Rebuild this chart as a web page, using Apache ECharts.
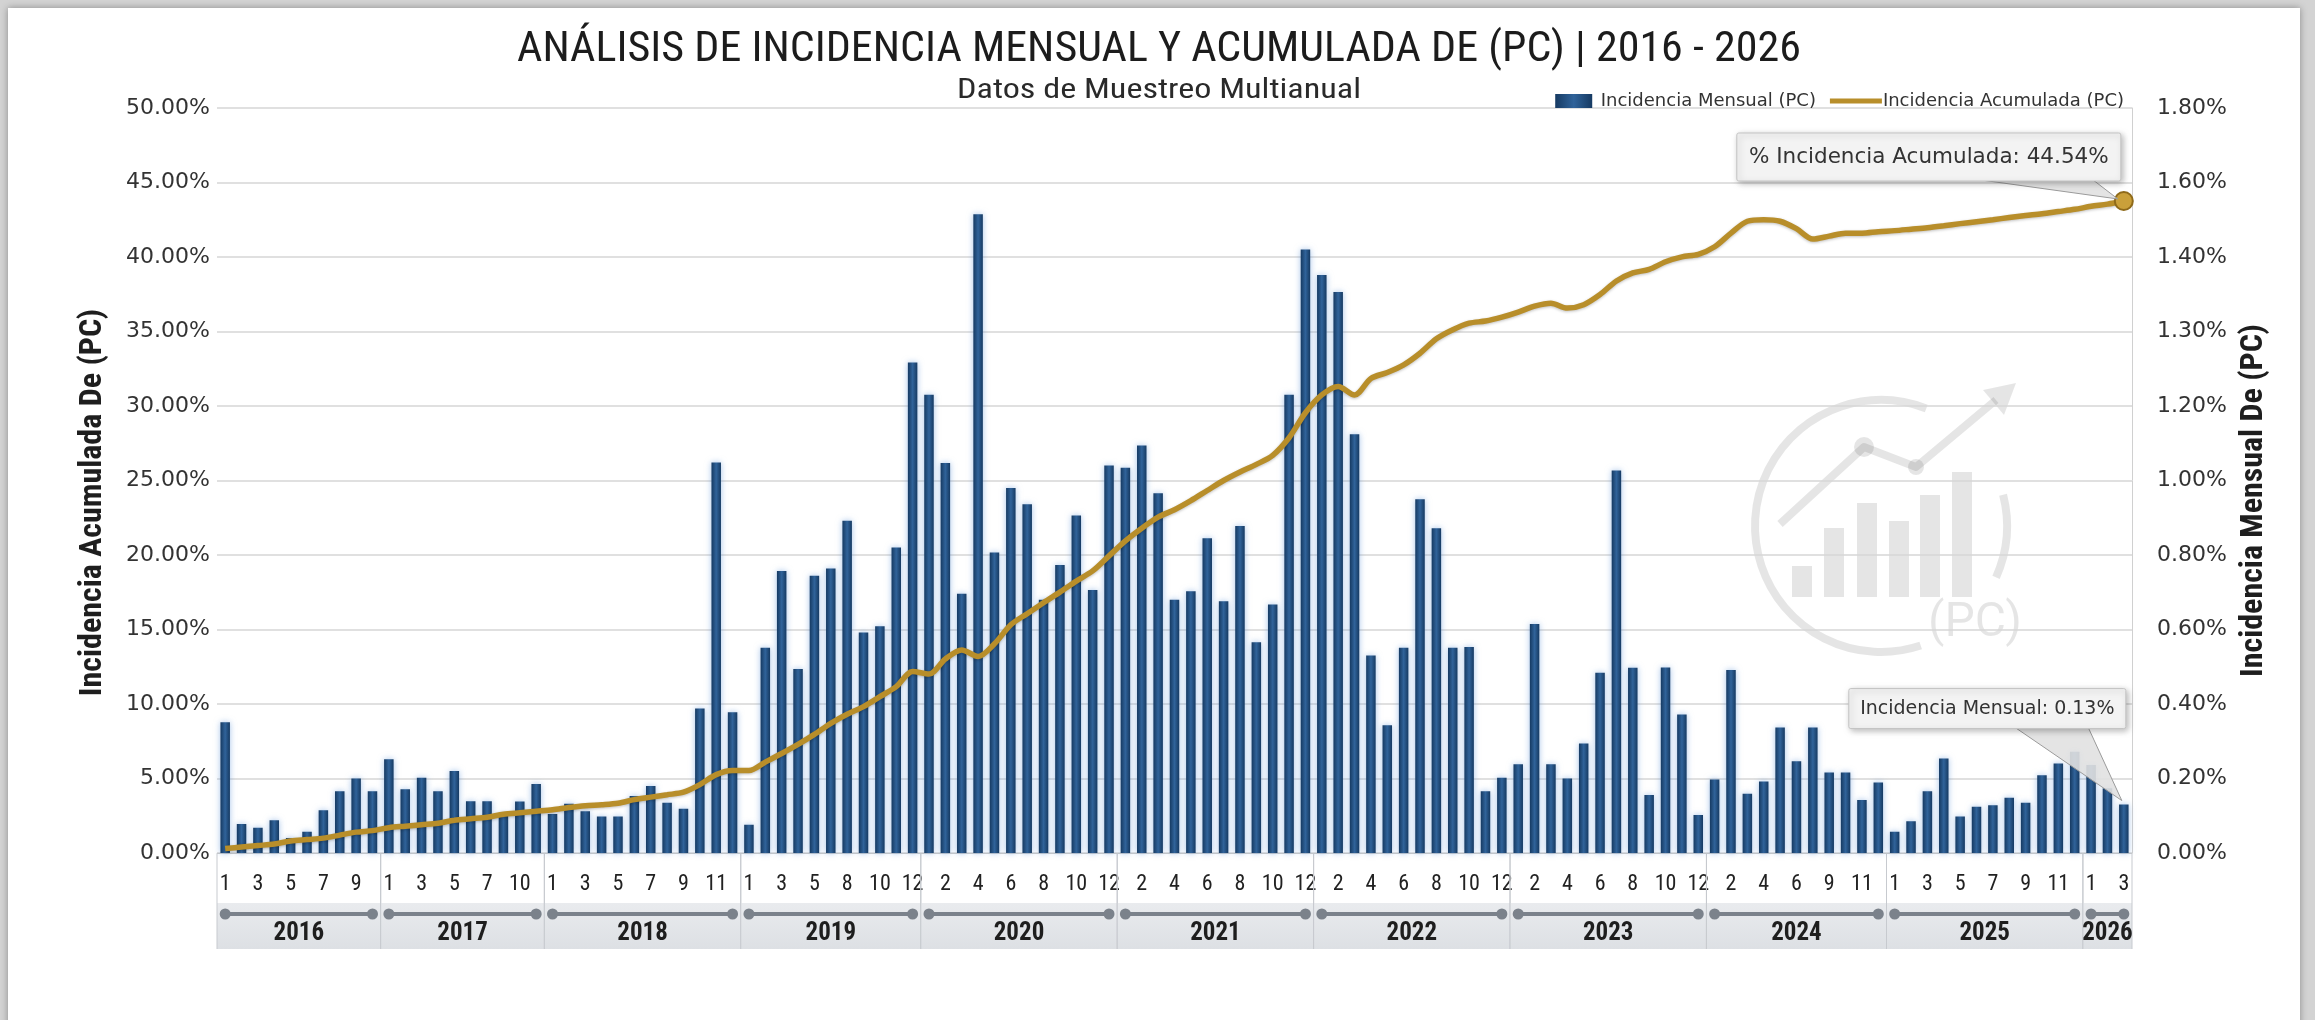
<!DOCTYPE html>
<html><head><meta charset="utf-8">
<script src="https://cdn.jsdelivr.net/npm/echarts@6/dist/echarts.min.js"></script>
<style>
html,body{margin:0;padding:0;background:#d3d3d3;width:2315px;height:1020px;overflow:hidden;}
#card{position:absolute;left:8px;top:8px;width:2292px;height:1040px;background:#fff;box-shadow:0 0 7px rgba(0,0,0,0.35);}
#chart{position:absolute;left:0;top:0;width:2315px;height:1020px;}
</style></head><body><div id="card"></div><div id="chart"></div>
<script>
// ---------------- DATA ----------------
const years = ['2016','2017','2018','2019','2020','2021','2022','2023','2024','2025','2026'];
const months2016 = [1,2,3,4,5,6,7,8,9,10];
const months2017 = [1,2,3,4,5,6,7,8,10,11];
const months2018 = [1,2,3,4,5,6,7,8,9,10,11,12];
const months2019 = [1,2,3,4,5,6,8,9,10,11,12];
const months2020 = [1,2,3,4,5,6,7,8,9,10,11,12];
const months2021 = [1,2,3,4,5,6,7,8,9,10,11,12];
const months2022 = [1,2,3,4,5,6,7,8,9,10,11,12];
const months2023 = [1,2,3,4,5,6,7,8,9,10,11,12];
const months2024 = [1,2,3,4,5,6,7,9,10,11,12];
const months2025 = [1,2,3,4,5,6,7,8,9,10,11,12];
const months2026 = [1,2,3];

// Incidencia Mensual (PC), % (right axis)
const monthly2016 = [0.351,0.078,0.068,0.088,0.040,0.057,0.115,0.166,0.200,0.166];
const monthly2017 = [0.252,0.171,0.202,0.166,0.220,0.139,0.139,0.104,0.138,0.185];
const monthly2018 = [0.105,0.132,0.112,0.098,0.098,0.153,0.180,0.135,0.119,0.388,1.048,0.378];
const monthly2019 = [0.076,0.551,0.757,0.494,0.744,0.764,0.892,0.592,0.609,0.820,1.317];
const monthly2020 = [1.230,1.047,0.696,1.715,0.807,0.980,0.936,0.680,0.773,0.906,0.706,1.040];
const monthly2021 = [1.034,1.094,0.966,0.680,0.703,0.845,0.676,0.878,0.566,0.667,1.230,1.620];
const monthly2022 = [1.552,1.506,1.124,0.530,0.343,0.551,0.950,0.872,0.551,0.553,0.166,0.202];
const monthly2023 = [0.238,0.615,0.238,0.200,0.294,0.484,1.027,0.497,0.156,0.498,0.372,0.102];
const monthly2024 = [0.197,0.491,0.159,0.192,0.337,0.246,0.337,0.216,0.216,0.142,0.189];
const monthly2025 = [0.057,0.085,0.166,0.254,0.098,0.124,0.128,0.148,0.135,0.209,0.240,0.272];
const monthly2026 = [0.236,0.174,0.130];

// Incidencia Acumulada (PC), % (left axis)
const cum2016 = [0.3,0.4,0.5,0.6,0.8,0.9,1.0,1.2,1.4,1.5];
const cum2017 = [1.7,1.8,1.9,2.0,2.2,2.3,2.4,2.6,2.7,2.8];
const cum2018 = [2.9,3.05,3.17,3.24,3.34,3.58,3.75,3.91,4.08,4.59,5.26,5.53];
const cum2019 = [5.53,6.1,6.68,7.29,7.96,8.7,9.31,9.82,10.49,11.17,12.18];
const cum2020 = [12.01,13.02,13.63,13.19,14.04,15.32,16.06,16.80,17.51,18.25,18.93,19.94];
const cum2021 = [20.95,21.80,22.54,23.04,23.65,24.33,25.0,25.57,26.08,26.69,27.87,29.55];
const cum2022 = [30.74,31.31,30.74,31.85,32.25,32.76,33.54,34.51,35.12,35.56,35.7,35.96];
const cum2023 = [36.3,36.7,36.9,36.57,36.8,37.48,38.39,38.93,39.17,39.68,40.01,40.18];
const cum2024 = [40.69,41.6,42.4,42.5,42.4,41.9,41.2,41.4,41.6,41.6,41.7];
const cum2025 = [41.77,41.87,41.97,42.1,42.24,42.37,42.5,42.65,42.78,42.9,43.05,43.2];
const cum2026 = [43.4,43.55,43.76];

const leftTicks = ['0.00%','5.00%','10.00%','15.00%','20.00%','25.00%','30.00%','35.00%','40.00%','45.00%','50.00%'];
const rightTicks = ['0.00%','0.20%','0.40%','0.60%','0.80%','1.00%','1.20%','1.30%','1.40%','1.60%','1.80%'];

const titleText = 'ANÁLISIS DE INCIDENCIA MENSUAL Y ACUMULADA DE (PC) | 2016 - 2026';
const subtitleText = 'Datos de Muestreo Multianual';
const seriesNames = ['Incidencia Mensual (PC)', 'Incidencia Acumulada (PC)'];
const axisNames = ['Incidencia Acumulada De (PC)', 'Incidencia Mensual De (PC)'];
const cumulativeLabel = '% Incidencia Acumulada: 44.54%';

// ---------------- BUILD ----------------
const monthsByYear = [months2016,months2017,months2018,months2019,months2020,months2021,months2022,months2023,months2024,months2025,months2026];
const monthlyByYear = [monthly2016,monthly2017,monthly2018,monthly2019,monthly2020,monthly2021,monthly2022,monthly2023,monthly2024,monthly2025,monthly2026];
const cumByYear = [cum2016,cum2017,cum2018,cum2019,cum2020,cum2021,cum2022,cum2023,cum2024,cum2025,cum2026];

const categories = [], monthly = [], cumulative = [], yearRanges = [];
monthsByYear.forEach((ms, yi) => {
  const start = categories.length;
  ms.forEach((m, k) => {
    categories.push(years[yi] + '-' + m);
    monthly.push(monthlyByYear[yi][k]);
    cumulative.push(cumByYear[yi][k]);
  });
  yearRanges.push([start, categories.length - 1, yi, 0]);
});
const lastIdx = categories.length - 1;

function hasFont(f) {
  const c = document.createElement('canvas').getContext('2d');
  c.font = '40px monospace';
  const w1 = c.measureText('ABCabc123%').width;
  c.font = '40px "' + f + '", monospace';
  return c.measureText('ABCabc123%').width !== w1;
}
const condName = ['Roboto Condensed','Liberation Sans Narrow','DejaVu Sans Condensed','Arial Narrow'].find(hasFont);
const COND = condName ? '"' + condName + '", Roboto, sans-serif' : 'Roboto, sans-serif';
const ROBO = 'Roboto, "Liberation Sans", sans-serif';
const WIDE = '"DejaVu Sans", Verdana, sans-serif';

function measure(text, size, fam, weight) {
  const c = document.createElement('canvas').getContext('2d');
  c.font = (weight || 'normal') + ' ' + size + 'px ' + fam;
  return c.measureText(text).width;
}

const chart = echarts.init(document.getElementById('chart'), null, {renderer: 'canvas'});

const barGrad = new echarts.graphic.LinearGradient(0, 0, 1, 0, [
  {offset: 0, color: '#163a62'},
  {offset: 0.5, color: '#30639a'},
  {offset: 1, color: '#163a62'}
]);

const WM = 'rgba(0,0,0,0.10)';
const wmCx = 1881, wmCy = 526;
const watermark = {
  type: 'group', silent: true, z: 0,
  children: [
    {type: 'arc', shape: {cx: wmCx, cy: wmCy, r: 126, startAngle: -0.25, endAngle: 0.42, clockwise: true}, style: {stroke: WM, lineWidth: 8, fill: null}},
    {type: 'arc', shape: {cx: wmCx, cy: wmCy, r: 126, startAngle: 1.25, endAngle: 5.08, clockwise: true}, style: {stroke: WM, lineWidth: 8, fill: null}},
    {type: 'rect', shape: {x: 1792, y: 566, width: 20, height: 31}, style: {fill: WM}},
    {type: 'rect', shape: {x: 1824, y: 528, width: 20, height: 69}, style: {fill: WM}},
    {type: 'rect', shape: {x: 1857, y: 503, width: 20, height: 94}, style: {fill: WM}},
    {type: 'rect', shape: {x: 1889, y: 521, width: 20, height: 76}, style: {fill: WM}},
    {type: 'rect', shape: {x: 1920, y: 495, width: 20, height: 102}, style: {fill: WM}},
    {type: 'rect', shape: {x: 1952, y: 472, width: 20, height: 125}, style: {fill: WM}},
    {type: 'polyline', shape: {points: [[1780, 524], [1864, 447], [1916, 467], [1996, 400]]}, style: {stroke: WM, lineWidth: 8, fill: null, lineJoin: 'round'}},
    {type: 'circle', shape: {cx: 1864, cy: 447, r: 10}, style: {fill: WM}},
    {type: 'circle', shape: {cx: 1916, cy: 467, r: 8}, style: {fill: WM}},
    {type: 'polygon', shape: {points: [[2016, 383], [2004, 415], [1983, 390]]}, style: {fill: WM}},
    {type: 'text', x: 1975, y: 624, style: {text: '(PC)', fontSize: 48, fontFamily: ROBO, fill: WM, align: 'center', verticalAlign: 'middle'}}
  ]
};

const titleW = measure(titleText, 42, COND, 'normal');
const subW = measure(subtitleText, 28, COND, 'normal');

const barIcon = 'path://M0,0H37V14H0Z';
const lineIcon = 'path://M0,0H52V5H0Z';

const option = {
  animation: false,
  backgroundColor: 'transparent',
  grid: {left: 217, right: 183, top: 108, bottom: 167, containLabel: false},
  legend: {
    top: 87, right: 186, itemGap: 14, itemWidth: 52, itemHeight: 14,
    symbolKeepAspect: true,
    textStyle: {fontSize: 18, color: '#333', fontFamily: WIDE, padding: [0, 0, 0, -4]},
    data: [
      {name: seriesNames[0], icon: barIcon},
      {name: seriesNames[1], icon: lineIcon}
    ]
  },
  xAxis: {
    type: 'category', data: categories, boundaryGap: true,
    axisLine: {show: true, lineStyle: {color: '#c9c9c9'}},
    axisTick: {show: false},
    axisLabel: {interval: 1, margin: 20, fontSize: 22, color: '#222', fontFamily: COND,
      formatter: v => v.split('-')[1]},
    splitLine: {show: false}
  },
  yAxis: [
    {
      type: 'value', min: 0, max: 50, interval: 5, position: 'left',
      axisLine: {show: false}, axisTick: {show: false},
      axisLabel: {margin: 7, fontSize: 22, color: '#333', fontFamily: WIDE,
        formatter: v => leftTicks[Math.round(v / 5)]},
      splitLine: {show: true, lineStyle: {color: '#d6d6d6', width: 1.5}},
      name: axisNames[0], nameLocation: 'middle', nameGap: 108,
      nameTextStyle: {fontSize: 32, fontWeight: 'bold', color: '#1e1e1e', fontFamily: COND, padding: [0, 44, 0, 0]}
    },
    {
      type: 'value', min: 0, max: 2.0, interval: 0.2, position: 'right',
      axisLine: {show: true, lineStyle: {color: '#d0d0d0'}}, axisTick: {show: false},
      axisLabel: {margin: 25, fontSize: 22, color: '#333', fontFamily: WIDE,
        formatter: v => rightTicks[Math.round(v / 0.2)]},
      splitLine: {show: false},
      name: axisNames[1], nameLocation: 'middle', nameGap: 104,
      nameTextStyle: {fontSize: 32, fontWeight: 'bold', color: '#1e1e1e', fontFamily: COND, padding: [0, 40, 0, 0]}
    }
  ],
  series: [
    {
      name: seriesNames[0], type: 'bar', yAxisIndex: 1, data: monthly, barWidth: '58%',
      itemStyle: {color: barGrad, shadowColor: 'rgba(90,145,215,0.55)', shadowBlur: 6},
      z: 2
    },
    {
      name: seriesNames[1], type: 'line', yAxisIndex: 0, data: cumulative,
      smooth: 0.3, symbol: 'none',
      lineStyle: {color: '#b88e2a', width: 5.5, shadowColor: 'rgba(0,0,0,0.25)', shadowBlur: 3, shadowOffsetY: 1},
      itemStyle: {color: '#b88e2a'},
      z: 4,
      markPoint: {
        symbol: 'circle', symbolSize: 18, silent: true,
        itemStyle: {color: '#caa03a', borderColor: '#8f6a1a', borderWidth: 2},
        label: {show: false},
        data: [{coord: [lastIdx, cumulative[lastIdx]]}]
      }
    },
    {
      name: 'years', type: 'custom', yAxisIndex: 0, data: yearRanges,
      encode: {x: [0, 1], y: 3}, silent: true, clip: false, z: 1,
      renderItem: function (params, api) {
        const s = api.value(0), e = api.value(1), yi = api.value(2);
        const bw = api.size([1, 0])[0];
        const a = api.coord([s, 0]), b = api.coord([e, 0]);
        const x0 = a[0] - bw / 2, x1 = b[0] + bw / 2, y0 = a[1];
        const col = '#7b828b';
        return {
          type: 'group',
          children: [
            {type: 'rect', shape: {x: x0, y: y0 + 50, width: x1 - x0, height: 46},
              style: {fill: new echarts.graphic.LinearGradient(0, 0, 0, 1, [{offset: 0, color: '#e9ebee'}, {offset: 1, color: '#dde0e4'}])}},
            {type: 'line', shape: {x1: x0, y1: y0 + 1, x2: x0, y2: y0 + 96}, style: {stroke: '#c7cacf', lineWidth: 1}},
            {type: 'line', shape: {x1: x1, y1: y0 + 1, x2: x1, y2: y0 + 96}, style: {stroke: '#c7cacf', lineWidth: 1}},
            {type: 'line', shape: {x1: a[0], y1: y0 + 61, x2: b[0], y2: y0 + 61}, style: {stroke: col, lineWidth: 4}},
            {type: 'circle', shape: {cx: a[0], cy: y0 + 61, r: 5.5}, style: {fill: col}},
            {type: 'circle', shape: {cx: b[0], cy: y0 + 61, r: 5.5}, style: {fill: col}},
            {type: 'text', x: (x0 + x1) / 2, y: y0 + 81,
              style: {text: years[yi], fontSize: 25, fontWeight: 'bold', fontFamily: COND, fill: '#1e1e1e', align: 'center', verticalAlign: 'middle'}}
          ]
        };
      }
    }
  ],
  graphic: [
    watermark,
    {type: 'text', x: 1159, y: 50, scaleX: 1284 / titleW, z: 10,
      style: {text: titleText, fontSize: 42, fontWeight: 'normal', fontFamily: COND, fill: '#1c1c1c', align: 'center', verticalAlign: 'middle'}},
    {type: 'text', x: 1159, y: 91, scaleX: 404 / subW, z: 10,
      style: {text: subtitleText, fontSize: 28, fontWeight: 'normal', fontFamily: COND, fill: '#2a2a2a', align: 'center', verticalAlign: 'middle'}}
  ]
};
chart.setOption(option);

// ---------- annotations anchored through the axes ----------
const pDot = chart.convertToPixel({xAxisIndex: 0, yAxisIndex: 0}, [lastIdx, cumulative[lastIdx]]);
const pBar = chart.convertToPixel({xAxisIndex: 0, yAxisIndex: 1}, [lastIdx, monthly[lastIdx]]);
const monthlyLabel = 'Incidencia Mensual: ' + monthly[lastIdx].toFixed(2) + '%';

const b1 = {w: 384, h: 48}; b1.x = pDot[0] - 3 - b1.w; b1.y = pDot[1] - 20 - b1.h;
const b2 = {w: 277, h: 40}; b2.x = pBar[0] + 2 - b2.w; b2.y = pBar[1] - 76 - b2.h;
const boxStyle = {fill: '#f3f3f3', stroke: '#c4c4c4', lineWidth: 1, shadowColor: 'rgba(0,0,0,0.28)', shadowBlur: 6, shadowOffsetX: 2, shadowOffsetY: 2};
const tailStyle = {fill: 'rgba(225,225,225,0.9)', stroke: '#9a9a9a', lineWidth: 1};

chart.setOption({
  graphic: option.graphic.concat([
    {type: 'polygon', z: 20, shape: {points: [[pDot[0] - 150, b1.y + b1.h - 2], [pDot[0] - 32, b1.y + b1.h - 2], [pDot[0] - 6, pDot[1] - 2]]}, style: tailStyle},
    {type: 'rect', z: 21, shape: {x: b1.x, y: b1.y, width: b1.w, height: b1.h, r: 2}, style: boxStyle},
    {type: 'text', z: 22, x: b1.x + b1.w / 2, y: b1.y + b1.h / 2,
      style: {text: cumulativeLabel, fontSize: 21.5, fontFamily: WIDE, fill: '#333', align: 'center', verticalAlign: 'middle'}},
    {type: 'polygon', z: 20, shape: {points: [[pBar[0] - 110, b2.y + b2.h - 2], [pBar[0] - 36, b2.y + b2.h - 2], [pBar[0] - 2, pBar[1] - 4]]}, style: tailStyle},
    {type: 'rect', z: 21, shape: {x: b2.x, y: b2.y, width: b2.w, height: b2.h, r: 2}, style: boxStyle},
    {type: 'text', z: 22, x: b2.x + b2.w / 2, y: b2.y + b2.h / 2,
      style: {text: monthlyLabel, fontSize: 19, fontFamily: WIDE, fill: '#333', align: 'center', verticalAlign: 'middle'}}
  ])
});
</script></body></html>
